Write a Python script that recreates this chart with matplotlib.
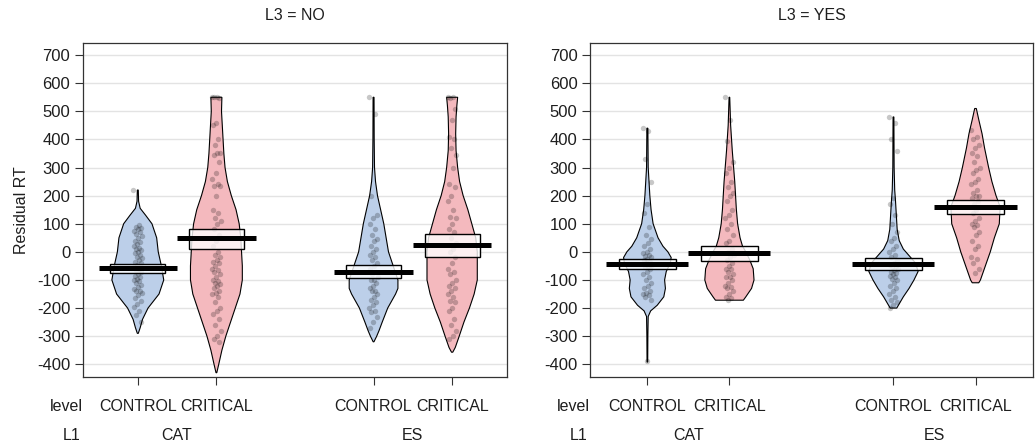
import matplotlib
matplotlib.use('Agg')
import matplotlib.pyplot as plt
import numpy as np

plt.rcParams['font.family'] = ['Liberation Sans', 'DejaVu Sans']

# group order inside each panel: CAT/CONTROL, CAT/CRITICAL, ES/CONTROL, ES/CRITICAL
levels = ['CONTROL', 'CRITICAL', 'CONTROL', 'CRITICAL']
l1_names = ['CAT', 'ES']
panel_titles = ['L3 = NO', 'L3 = YES']
positions = [1, 2, 4, 5]
fills = ['#bccfe9', '#f4b9be', '#bccfe9', '#f4b9be']

# means and 95% HDI bands (lower, upper)
means_no = [-58, 49, -72, 24]
hdi_no = [(-75, -42), (10, 81), (-94, -47), (-19, 63)]
means_yes = [-44, -4, -44, 160]
hdi_yes = [(-62, -26), (-33, 20), (-65, -22), (134, 184)]

# bean outlines: (value, half width)
beans_no = [
    [(220, 0.006), (180, 0.01), (155, 0.03), (130, 0.1), (100, 0.18), (50, 0.24),
     (0, 0.26), (-50, 0.3), (-100, 0.33), (-150, 0.27), (-200, 0.13),
     (-240, 0.06), (-270, 0.03), (-290, 0.006)],
    [(550, 0.07), (500, 0.065), (450, 0.075), (400, 0.085), (350, 0.095),
     (300, 0.11), (250, 0.14), (200, 0.19), (150, 0.25), (100, 0.29),
     (50, 0.31), (0, 0.32), (-50, 0.33), (-100, 0.33), (-150, 0.3),
     (-200, 0.24), (-250, 0.18), (-300, 0.12), (-350, 0.07), (-400, 0.03),
     (-430, 0.005)],
    [(550, 0.006), (400, 0.008), (300, 0.012), (250, 0.025), (200, 0.05),
     (150, 0.09), (100, 0.13), (50, 0.16), (0, 0.19), (-50, 0.25),
     (-100, 0.31), (-130, 0.31), (-150, 0.28), (-200, 0.18), (-250, 0.11),
     (-280, 0.07), (-300, 0.04), (-320, 0.005)],
    [(550, 0.07), (520, 0.06), (480, 0.05), (420, 0.045), (360, 0.05),
     (300, 0.07), (250, 0.095), (200, 0.14), (150, 0.2), (100, 0.25),
     (50, 0.3), (0, 0.32), (-100, 0.32), (-150, 0.28), (-200, 0.22),
     (-250, 0.15), (-300, 0.09), (-340, 0.04), (-357, 0.008)],
]
beans_yes = [
    [(440, 0.006), (300, 0.01), (250, 0.02), (200, 0.03), (150, 0.045),
     (100, 0.07), (50, 0.13), (20, 0.19), (0, 0.25), (-20, 0.29),
     (-40, 0.28), (-70, 0.23), (-100, 0.21), (-130, 0.22), (-160, 0.2),
     (-190, 0.12), (-210, 0.04), (-230, 0.01), (-300, 0.006), (-392, 0.004)],
    [(550, 0.004), (450, 0.015), (360, 0.035), (250, 0.065), (150, 0.085),
     (100, 0.1), (50, 0.13), (20, 0.16), (0, 0.2), (-30, 0.25), (-60, 0.29),
     (-100, 0.3), (-130, 0.27), (-160, 0.2), (-172, 0.17)],
    [(480, 0.005), (300, 0.008), (220, 0.015), (180, 0.025), (130, 0.035),
     (80, 0.045), (40, 0.07), (10, 0.12), (-10, 0.18), (-40, 0.27),
     (-70, 0.3), (-100, 0.25), (-130, 0.19), (-160, 0.12), (-190, 0.06),
     (-200, 0.04)],
    [(510, 0.01), (470, 0.04), (420, 0.08), (370, 0.11), (300, 0.16),
     (250, 0.2), (200, 0.25), (160, 0.3), (100, 0.29), (50, 0.23),
     (0, 0.18), (-50, 0.12), (-100, 0.06), (-110, 0.04)],
]

# raw observations (approximate)
points_no = [
    [220, 95, 90, 85, 80, 75, 70, 62, 55, 48, 40, 35, 28, 20, 15, 10, 5, 0, -5,
     -10, -18, -22, -30, -35, -40, -48, -55, -60, -65, -70, -78, -85, -90, -95,
     -100, -105, -110, -118, -125, -132, -140, -140, -148, -155, -165, -175,
     -185, -195, -210, -225, -250],
    [550, 550, 550, 548, 460, 450, 400, 380, 350, 350, 345, 320, 280, 260, 240,
     235, 235, 200, 150, 140, 120, 110, 100, 80, 60, 40, 20, 0, -10, -20, -30,
     -35, -40, -50, -60, -65, -70, -80, -90, -100, -105, -110, -115, -120,
     -130, -140, -145, -150, -160, -180, -200, -210, -220, -240, -260, -280,
     -300, -310, -320],
    [550, 490, 200, 130, 120, 100, 80, 60, 45, 40, 20, 10, 0, -10, -20, -30,
     -40, -50, -60, -70, -80, -90, -100, -100, -110, -120, -130, -140, -140,
     -150, -160, -170, -180, -190, -200, -210, -215, -230, -250, -270],
    [550, 550, 548, 510, 470, 410, 400, 370, 345, 300, 240, 230, 200, 180, 150,
     125, 120, 100, 80, 70, 50, 30, 10, 0, -20, -40, -60, -70, -80, -100,
     -110, -120, -130, -140, -150, -160, -175, -180, -200, -210, -240, -260,
     -280, -300, -310],
]
points_yes = [
    [440, 430, 330, 250, 170, 140, 90, 60, 45, 30, 20, 10, 0, -5, -10, -15,
     -20, -25, -30, -35, -40, -45, -50, -55, -60, -70, -80, -90, -100, -110,
     -120, -130, -140, -145, -150, -155, -160, -170, -390],
    [550, 470, 395, 320, 300, 280, 250, 230, 210, 200, 180, 150, 130, 120, 100,
     80, 60, 40, 30, 10, 0, -10, -20, -30, -40, -50, -60, -60, -70, -80, -90,
     -90, -100, -110, -120, -125, -130, -140, -150, -160, -165, -170],
    [480, 460, 400, 360, 190, 170, 130, 100, 70, 50, 40, 20, 10, 0, -10, -20,
     -30, -40, -45, -50, -55, -60, -65, -70, -75, -80, -85, -90, -95, -100,
     -110, -120, -130, -140, -150, -160, -170, -180, -190, -200],
    [435, 410, 400, 380, 370, 350, 340, 320, 300, 290, 280, 260, 250, 240, 220,
     210, 200, 200, 190, 180, 170, 160, 150, 140, 120, 110, 100, 95, 90, 70,
     60, 40, 20, 10, -20, -25, -40, -60, -75],
]

yticks = np.arange(-400, 701, 100)
fs = 11.5
txt = '#1e1e1e'

fig = plt.figure(figsize=(10.35, 4.48), dpi=100)
ax_rects = [[0.080, 0.158, 0.410, 0.746], [0.570, 0.158, 0.428, 0.746]]

panels = [(means_no, hdi_no, beans_no, points_no),
          (means_yes, hdi_yes, beans_yes, points_yes)]

for p, (means, hdi, beans, points) in enumerate(panels):
    ax = fig.add_axes(ax_rects[p])
    ax.set_xlim(0.3, 5.7)
    ax.set_ylim(-446, 743)
    for yt in yticks:
        ax.axhline(yt, color='#e3e3e3', lw=1, zorder=0)

    for g, pos in enumerate(positions):
        bean = np.array(beans[g])
        yy, hw = bean[:, 0], bean[:, 1]
        xs = np.concatenate([pos - hw, (pos + hw)[::-1]])
        ys = np.concatenate([yy, yy[::-1]])
        ax.fill(xs, ys, facecolor=fills[g], edgecolor='black', lw=0.8,
                zorder=1)

        vals = np.array(points[g], dtype=float)
        idx = np.arange(len(vals))
        jit = ((idx * 0.6180339) % 1.0 - 0.5) * 0.11
        ax.scatter(pos + jit, vals, s=15, color='black', alpha=0.22,
                   linewidths=0, zorder=2)

        lo, hi = hdi[g]
        ax.add_patch(plt.Rectangle((pos - 0.35, lo), 0.7, hi - lo,
                                   facecolor='white', alpha=0.8,
                                   edgecolor='none', zorder=3))
        ax.add_patch(plt.Rectangle((pos - 0.35, lo), 0.7, hi - lo,
                                   facecolor='none', edgecolor='black',
                                   lw=1.0, zorder=4))
        ax.plot([pos - 0.5, pos + 0.5], [means[g], means[g]], color='black',
                lw=3.6, solid_capstyle='butt', zorder=5)

    ax.set_yticks(yticks)
    ax.set_yticklabels([str(v) for v in yticks], fontsize=12)
    ax.set_xticks(positions)
    ax.set_xticklabels([])
    ax.tick_params(axis='both', length=6, width=0.8, color='#333333',
                   labelcolor=txt, pad=3)
    for s in ax.spines.values():
        s.set_linewidth(0.9)
        s.set_color('#333333')

    if p == 0:
        ax.set_ylabel('Residual RT', fontsize=fs, labelpad=6, color=txt)

    box = ax_rects[p]
    fig.text(box[0] + box[2] / 2, 1 - 15 / 448, panel_titles[p], ha='center',
             va='center', fontsize=fs, color=txt)

    trans = ax.get_xaxis_transform()
    for g, pos in enumerate(positions):
        ax.text(pos, -0.088, levels[g], transform=trans, ha='center',
                va='center', fontsize=fs, color=txt)
    for k, name in enumerate(l1_names):
        ax.text(1.5 + 3 * k, -0.175, name, transform=trans, ha='center',
                va='center', fontsize=fs, color=txt)
    ax.text(0.0, -0.088, 'level', transform=ax.transAxes, ha='right',
            va='center', fontsize=fs, color=txt)
    ax.text(-0.005, -0.175, 'L1', transform=ax.transAxes, ha='right',
            va='center', fontsize=fs, color=txt)

fig.savefig('out.png', dpi=100)
